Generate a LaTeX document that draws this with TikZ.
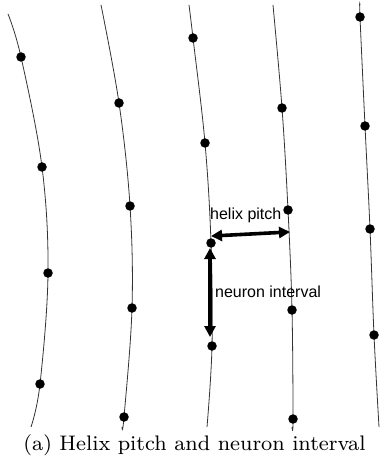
\documentclass[tikz,border=0pt]{standalone}
\usepackage{fontspec}
\newfontfamily\arialfont{Liberation Sans}
\usetikzlibrary{arrows.meta}
\begin{document}
\begin{tikzpicture}[x=1pt,y=-1pt,
  strand/.style={draw=black!80,line width=0.8pt},
  neuron/.style={circle,fill=black,inner sep=0pt,minimum size=9.5pt},
  measure/.style={line width=3.6pt,{Triangle[length=11pt,width=11pt]}-{Triangle[length=11pt,width=11pt]},shorten <=-1pt,shorten >=-1pt},
  lbl/.style={font=\arialfont\fontsize{16}{18}\selectfont,inner sep=0pt}]
\useasboundingbox (0,0) rectangle (380,462);
% strands
\draw[strand] plot[smooth,tension=0.6] coordinates {(8,14) (21,57) (42,167) (48,273) (40,384) (31,427)};
\draw[strand] plot[smooth,tension=0.6] coordinates {(101,5) (119,103) (130,206) (132,308) (124,417) (122,427)};
\draw[strand] plot[smooth,tension=0.6] coordinates {(189,5) (193,38) (205,143) (211,243) (212,346) (207,427)};
\draw[strand] plot[smooth,tension=0.6] coordinates {(273,5) (282,108) (288,210) (292,310) (293,419) (292,427)};
\draw[strand] plot[smooth,tension=0.6] coordinates {(360,5) (360,17) (365,126) (370,229) (374,335) (379,427)};
% neurons
\foreach \p [count=\i] in {(21,57),(42,167),(48,273),(40,384)} \node[neuron] (a\i) at \p {};
\foreach \p [count=\i] in {(119,103),(130,206),(132,308),(124,417)} \node[neuron] (b\i) at \p {};
\foreach \p [count=\i] in {(193,38),(205,143),(211,243),(212,346)} \node[neuron] (c\i) at \p {};
\foreach \p [count=\i] in {(282,108),(288,210),(292,310),(293,419)} \node[neuron] (d\i) at \p {};
\foreach \p [count=\i] in {(360,17),(365,126),(370,229),(374,335)} \node[neuron] (e\i) at \p {};
% measures
\coordinate (hpL) at (212,236);
\coordinate (hpR) at (289,232);
\coordinate (niT) at (210,249);
\coordinate (niB) at (210,336);
\draw[measure] (hpL) -- (hpR);
\draw[measure] (niT) -- (niB);
\node[lbl,anchor=west] (hp) at (210,215) {helix pitch};
\node[lbl,anchor=west] (ni) at (215,292) {neuron interval};
% caption
\node[inner sep=0pt] (cap) at (194.5,445) {\scalebox{2.63}{\fontsize{8}{10}\selectfont (a) Helix pitch and neuron interval}};
\end{tikzpicture}
\end{document}
